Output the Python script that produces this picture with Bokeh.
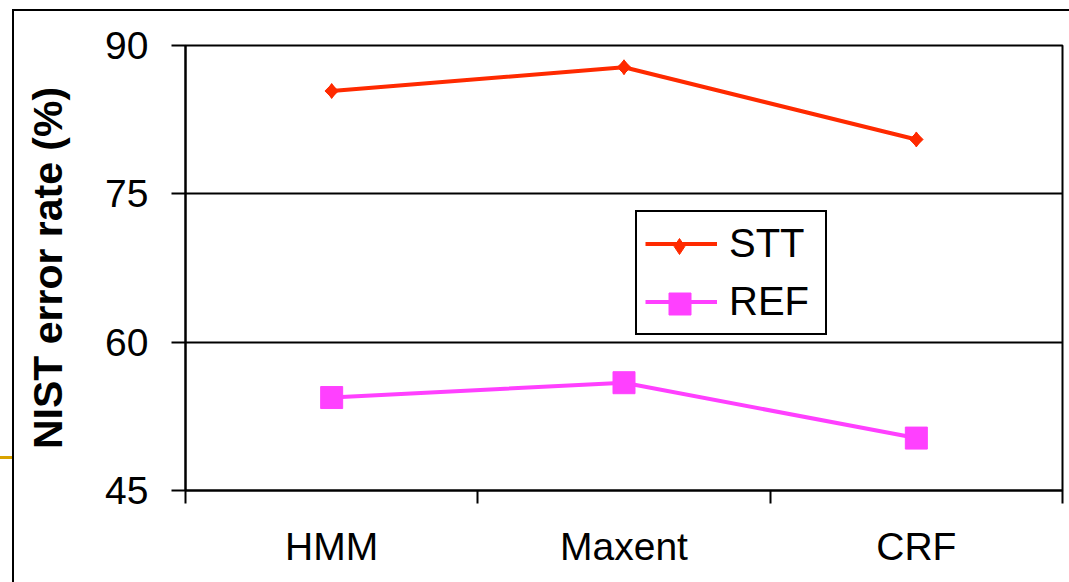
import math
from bokeh.plotting import figure
from bokeh.models import Range1d, FixedTicker, Legend, LegendItem, ColumnDataSource
from bokeh.embed import file_html
from bokeh.resources import INLINE

# ---- data ----
categories = ["HMM", "Maxent", "CRF"]
stt_values = [85.4, 87.8, 80.5]
ref_values = [54.4, 55.9, 50.3]
y_ticks = [45, 60, 75, 90]
series_names = ["STT", "REF"]
y_title = "NIST error rate (%)"

FONT = "Liberation Sans"
STT_COLOR = "#FF2A00"
REF_COLOR = "#FF40FF"

n = len(categories)
x_centers = [i + 0.5 for i in range(n)]
x_bounds = [float(i) for i in range(n + 1)]

src = ColumnDataSource(dict(x=x_centers, stt=stt_values, ref=ref_values))

p = figure(width=1069, height=582, output_backend="svg", toolbar_location=None,
           x_range=Range1d(0, n), y_range=Range1d(min(y_ticks), max(y_ticks)),
           min_border_left=185, min_border_right=7, min_border_top=45,
           min_border_bottom=92)

p.background_fill_color = "white"
p.border_fill_color = None
p.outline_line_color = "black"
p.outline_line_width = 2

# slide frame lines drawn behind the transparent canvas
p.styles = {
    "background": (
        "linear-gradient(#000,#000) 12px 9px / 2px 573px no-repeat, "
        "linear-gradient(#000,#000) 12px 9px / 1057px 2px no-repeat, "
        "linear-gradient(#D9A300,#D9A300) 0px 456px / 12px 3px no-repeat"
    )
}

# lines and markers
l1 = p.line("x", "stt", source=src, line_color=STT_COLOR, line_width=4)
m1 = p.scatter("x", "stt", source=src, marker="square", angle=math.pi / 4,
               size=9.5, fill_color=STT_COLOR, line_color=STT_COLOR)
m1d = p.scatter("x", "stt", source=src, marker="diamond", size=15,
                fill_color=STT_COLOR, line_color=STT_COLOR)
l2 = p.line("x", "ref", source=src, line_color=REF_COLOR, line_width=4)
m2 = p.scatter("x", "ref", source=src, marker="square", size=22,
               fill_color=REF_COLOR, line_color=REF_COLOR)

# x axis: labels at category centres, ticks at boundaries
xa = p.xaxis[0]
xa.ticker = FixedTicker(ticks=x_centers, minor_ticks=x_bounds)
xa.major_label_overrides = {x: c for x, c in zip(x_centers, categories)}
xa.major_tick_line_color = None
xa.minor_tick_line_color = "black"
xa.minor_tick_line_width = 2
xa.minor_tick_out = 13
xa.minor_tick_in = 0
xa.axis_line_color = "black"
xa.axis_line_width = 2
xa.major_label_text_font = FONT
xa.major_label_text_font_size = "39px"
xa.major_label_text_color = "black"
xa.major_label_standoff = 21

# y axis
ya = p.yaxis[0]
ya.ticker = FixedTicker(ticks=y_ticks)
ya.major_tick_line_color = "black"
ya.major_tick_line_width = 2
ya.major_tick_out = 14
ya.major_tick_in = 0
ya.minor_tick_line_color = None
ya.axis_line_color = "black"
ya.axis_line_width = 2
ya.major_label_text_font = FONT
ya.major_label_text_font_size = "39px"
ya.major_label_text_color = "black"
ya.major_label_standoff = 23
ya.axis_label = y_title
ya.axis_label_text_font = FONT
ya.axis_label_text_font_size = "41px"
ya.axis_label_text_font_style = "bold"
ya.axis_label_text_color = "black"
ya.axis_label_standoff = 31

p.xgrid.grid_line_color = None
p.ygrid.grid_line_color = "black"
p.ygrid.grid_line_width = 2

# main legend: box, lines and labels
legend = Legend(items=[LegendItem(label=series_names[0], renderers=[l1]),
                       LegendItem(label=series_names[1], renderers=[l2])],
                location=(450, 155))
legend.border_line_color = "black"
legend.border_line_width = 2
legend.border_line_alpha = 1
legend.background_fill_color = "white"
legend.background_fill_alpha = 1
legend.label_text_font = FONT
legend.label_text_font_size = "40px"
legend.label_text_color = "black"
legend.glyph_width = 72
legend.glyph_height = 47
legend.label_standoff = 12
legend.label_width = 88
legend.padding = 8
legend.spacing = 11
legend.margin = 0
p.add_layout(legend)


def marker_legend(renderer, box, x, y):
    lg = Legend(items=[LegendItem(label=" ", renderers=[renderer])], location=(x, y))
    lg.border_line_color = None
    lg.background_fill_alpha = 0
    lg.label_text_font_size = "1px"
    lg.label_standoff = 0
    lg.label_width = 0
    lg.glyph_width = box
    lg.glyph_height = box
    lg.padding = 0
    lg.spacing = 0
    lg.margin = 0
    p.add_layout(lg)


# marker sizes in a legend are 0.4 x glyph box
marker_legend(m1d, 40, 474, 224.5)
marker_legend(m2, 55, 466.5, 159)

open("out.html", "w").write(file_html(p, INLINE))
